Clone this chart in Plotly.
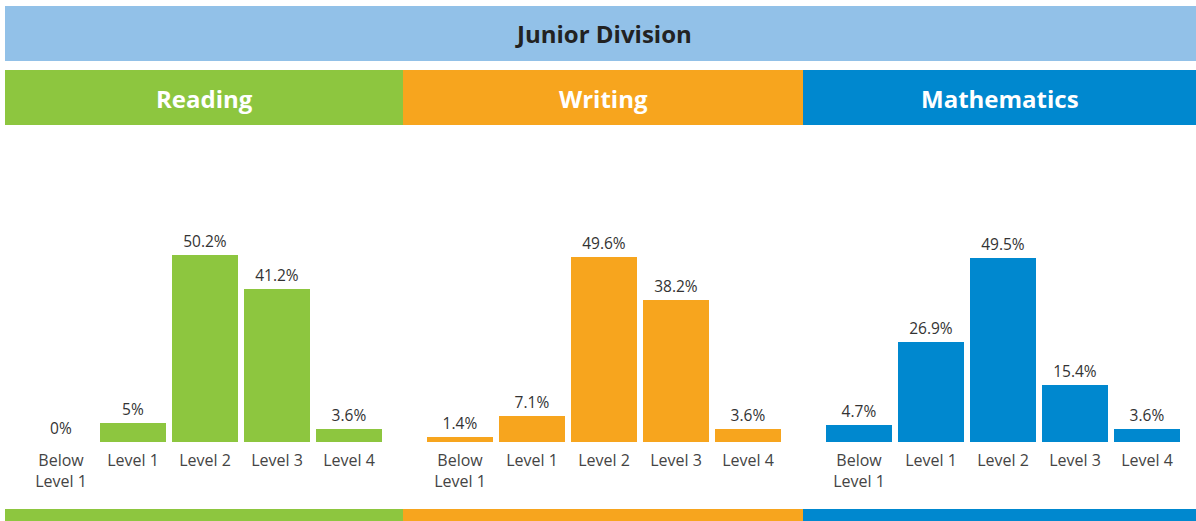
import plotly.graph_objects as go

categories = ["Below<br>Level 1", "Level 1", "Level 2", "Level 3", "Level 4"]
subjects = ["Reading", "Writing", "Mathematics"]
reading = [0, 5, 50.2, 41.2, 3.6]
writing = [1.4, 7.1, 49.6, 38.2, 3.6]
mathematics = [4.7, 26.9, 49.5, 15.4, 3.6]
title_text = "Junior Division"

series = [reading, writing, mathematics]
colors = ["#8DC63F", "#F7A51E", "#0088CF"]

W, H = 1196, 521
FONT = "Open Sans"

# panel pixel extents
panels = [(5, 403, 61), (403, 803, 460), (803, 1196, 859)]
pitch = 72.0
base_px = 442.0
top_px = 135.0
px_per_unit = 3.72

fig = go.Figure()
for i, (vals, col) in enumerate(zip(series, colors)):
    ax = "" if i == 0 else str(i + 1)
    fig.add_trace(go.Bar(
        x=list(range(len(categories))), y=vals,
        marker=dict(color=col, line=dict(width=0)),
        text=[f"{v:g}%" for v in vals], textposition="outside",
        textfont=dict(family=FONT, size=15.5, color="#333333"),
        cliponaxis=False, width=66 / pitch,
        xaxis="x" + ax, yaxis="y" + ax, showlegend=False, hoverinfo="skip",
    ))
    x0, x1, c0 = panels[i]
    fig.layout["xaxis" + ax] = dict(
        domain=[x0 / W, x1 / W],
        range=[(x0 - c0) / pitch, (x1 - c0) / pitch],
        tickvals=list(range(len(categories))), ticktext=categories,
        tickfont=dict(family=FONT, size=16, color="#444444"),
        ticks="outside", ticklen=4, tickcolor="rgba(0,0,0,0)",
        showgrid=False, zeroline=False, showline=False, fixedrange=True,
        anchor="y" + ax,
    )
    fig.layout["yaxis" + ax] = dict(
        domain=[1 - base_px / H, 1 - top_px / H],
        range=[0, (base_px - top_px) / px_per_unit],
        visible=False, fixedrange=True, anchor="x" + ax,
    )

shapes = []
annotations = []
# top banner
shapes.append(dict(type="rect", xref="paper", yref="paper", x0=5 / W, x1=1,
                   y0=1 - 61 / H, y1=1 - 6 / H, fillcolor="#92C1E8", line=dict(width=0), layer="below"))
annotations.append(dict(text=f"<b>{title_text}</b>", xref="paper", yref="paper",
                        x=603 / W, y=1 - 33.5 / H, xanchor="center", yanchor="middle",
                        showarrow=False, font=dict(family=FONT, size=24, color="#222222")))
for i, (x0, x1, c0) in enumerate(panels):
    shapes.append(dict(type="rect", xref="paper", yref="paper", x0=x0 / W, x1=x1 / W,
                       y0=1 - 125 / H, y1=1 - 70 / H, fillcolor=colors[i], line=dict(width=0), layer="below"))
    shapes.append(dict(type="rect", xref="paper", yref="paper", x0=x0 / W, x1=x1 / W,
                       y0=0, y1=1 - 509 / H, fillcolor=colors[i], line=dict(width=0), layer="below"))
    annotations.append(dict(text=f"<b>{subjects[i]}</b>", xref="paper", yref="paper",
                            x=(x0 + x1) / 2 / W, y=1 - 98 / H, xanchor="center", yanchor="middle",
                            showarrow=False, font=dict(family=FONT, size=24, color="#FFFFFF")))

fig.update_layout(
    width=W, height=H, margin=dict(l=0, r=0, t=0, b=0),
    paper_bgcolor="white", plot_bgcolor="white",
    shapes=shapes, annotations=annotations, bargap=0,
)
fig.write_html("out.html")
